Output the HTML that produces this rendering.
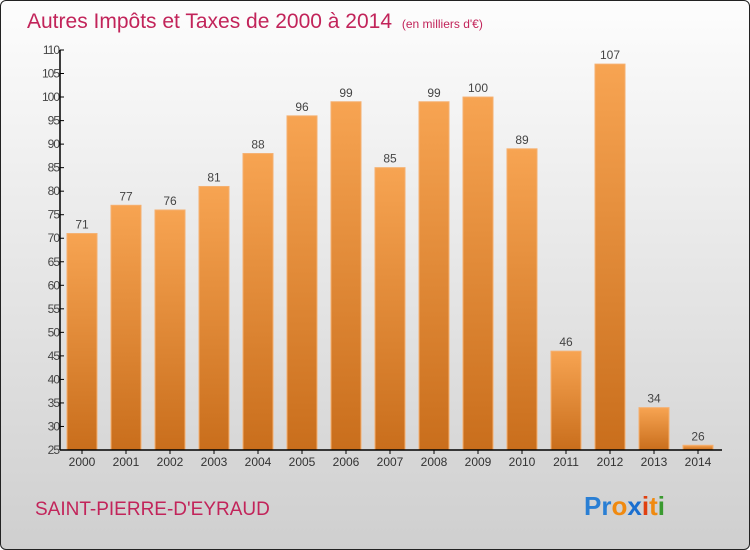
<!DOCTYPE html>
<html><head><meta charset="utf-8"><style>
body{margin:0;}
#wrap{position:relative;width:748px;height:548px;border:1px solid #222;border-radius:6px;overflow:hidden;background:linear-gradient(#fdfdfd,#cfcfcf);font-family:"Liberation Sans",sans-serif;}
</style></head><body>
<div id="wrap">
<svg id="chart" width="748" height="548">
<defs><linearGradient id="bg" x1="0" y1="0" x2="0" y2="1"><stop offset="0" stop-color="#f7a452"/><stop offset="1" stop-color="#c96e1c"/></linearGradient></defs>
<text x="26" y="27" font-size="21" fill="#c2245a">Autres Impôts et Taxes de 2000 à 2014 <tspan font-size="12" dx="4">(en milliers d'€)</tspan></text>
<text x="34" y="514" font-size="19" fill="#c2245a">SAINT-PIERRE-D'EYRAUD</text>
<text x="583" y="514" font-size="26" font-weight="bold"><tspan fill="#2a7fd4">Pr</tspan><tspan fill="#f08a10">o</tspan><tspan fill="#1a6fd0">x</tspan><tspan fill="#e04010">i</tspan><tspan fill="#f08a10">t</tspan><tspan fill="#3a9a30">i</tspan></text>
<g id="g"></g>
</svg>
</div>
<script>
const categories=["2000","2001","2002","2003","2004","2005","2006","2007","2008","2009","2010","2011","2012","2013","2014"];
const values=[71,77,76,81,88,96,99,85,99,100,89,46,107,34,26];
const yTicks=[25,30,35,40,45,50,55,60,65,70,75,80,85,90,95,100,105,110];
const yMin=25,yMax=110,plotTop=49,plotBot=449,x0=59;
const y=v=>plotBot-(v-yMin)/(yMax-yMin)*(plotBot-plotTop);
const x=i=>81+44*i;
const ns="http://www.w3.org/2000/svg",g=document.getElementById('g');
function mk(t,a){const e=document.createElementNS(ns,t);for(const k in a)e.setAttribute(k,a[k]);g.appendChild(e);return e;}
values.forEach((v,i)=>{
 const r=mk('rect',{x:x(i)-15,y:y(v),width:30,height:plotBot-y(v),fill:'url(#bg)',stroke:'#f5b070','stroke-width':1});
 
 
 const t=mk('text',{x:x(i),y:y(v)-5,'text-anchor':'middle','font-size':12,fill:'#444'});t.textContent=v;
 
 
 const c=mk('text',{x:x(i),y:plotBot+16,'text-anchor':'middle','font-size':12,fill:'#333'});c.textContent=categories[i];
 
 
 mk('line',{x1:x(i),x2:x(i),y1:plotBot,y2:plotBot+4,stroke:'#000'});
});
yTicks.forEach(v=>{
 mk('line',{x1:x0,x2:x0+4,y1:y(v),y2:y(v),stroke:'#000'});
 const t=mk('text',{x:x0-1,y:y(v)+4,'text-anchor':'end','font-size':12,fill:'#444','letter-spacing':'-1'});t.textContent=v;
 
 
});
const ya=mk('line',{x1:x0,x2:x0,y1:plotTop,y2:plotBot,stroke:'#000','stroke-width':1.5});


const xa=mk('line',{x1:x0,x2:721,y1:plotBot,y2:plotBot,stroke:'#000','stroke-width':1.5});


</script>
</body></html>
